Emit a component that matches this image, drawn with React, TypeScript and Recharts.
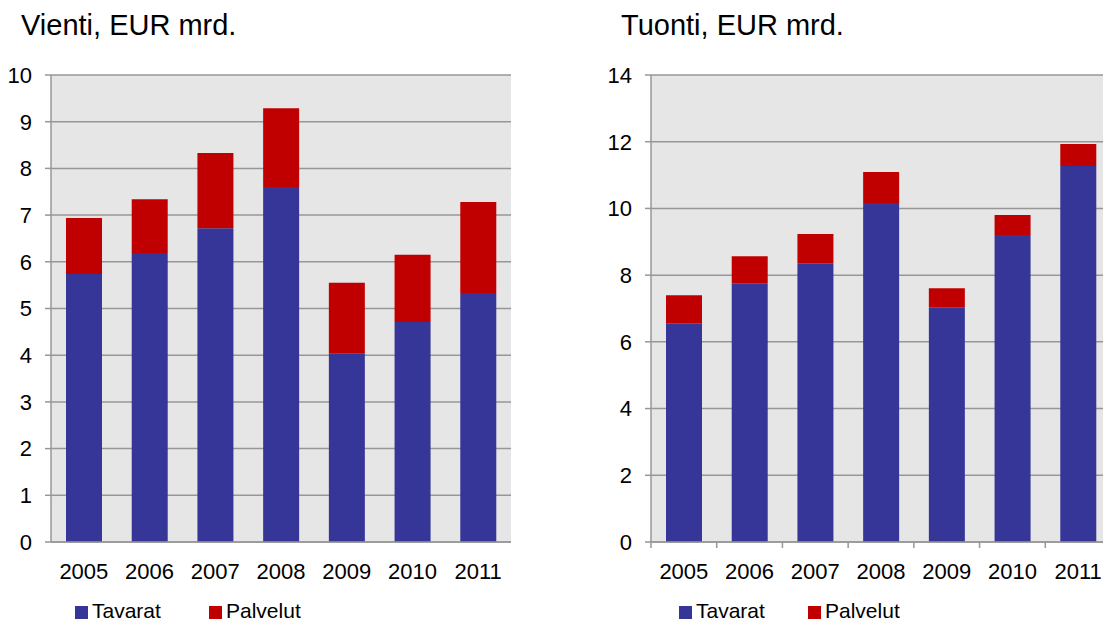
import { BarChart, Bar, XAxis, YAxis, CartesianGrid } from 'recharts'

// vuodet
const years = ['2005', '2006', '2007', '2008', '2009', '2010', '2011']

// Vienti, EUR mrd.
const vientiTavarat = [5.74, 6.19, 6.72, 7.6, 4.03, 4.71, 5.33]
const vientiPalvelut = [1.2, 1.15, 1.61, 1.69, 1.52, 1.44, 1.95]
const vientiTicks = [0, 1, 2, 3, 4, 5, 6, 7, 8, 9, 10]

// Tuonti, EUR mrd.
const tuontiTavarat = [6.56, 7.76, 8.36, 10.16, 7.04, 9.2, 11.27]
const tuontiPalvelut = [0.84, 0.81, 0.87, 0.93, 0.57, 0.6, 0.66]
const tuontiTicks = [0, 2, 4, 6, 8, 10, 12, 14]

const seriesNames = ['Tavarat', 'Palvelut']

const BLUE = '#363699'
const RED = '#C00000'
const GRID = '#979797'
const FONT = '"Liberation Sans", Arial, sans-serif'

const vientiData = years.map((year, i) => ({
  year,
  tavarat: vientiTavarat[i],
  palvelut: vientiPalvelut[i]
}))

const tuontiData = years.map((year, i) => ({
  year,
  tavarat: tuontiTavarat[i],
  palvelut: tuontiPalvelut[i]
}))

// year label, plus optional tick marks on the category edges
function YearTick(props: any, withEdges: boolean) {
  const { x, y, payload, index } = props
  const half = payload?.offset ?? 0
  return (
    <g>
      {withEdges && (
        <line x1={x - half} x2={x - half} y1={y} y2={y + 6} stroke={GRID} strokeWidth={1.5} />
      )}
      {withEdges && index === years.length - 1 && (
        <line x1={x + half} x2={x + half} y1={y} y2={y + 6} stroke={GRID} strokeWidth={1.5} />
      )}
      <text x={x} y={y + 21} dy="0.71em" textAnchor="middle" fontSize={22} fill="#000" fontFamily={FONT}>
        {payload.value}
      </text>
    </g>
  )
}

function Panel({
  data,
  ticks,
  max,
  title,
  left,
  edgeTicks
}: {
  data: typeof vientiData
  ticks: number[]
  max: number
  title: string
  left: number
  edgeTicks: boolean
}) {
  return (
    <div style={{ position: 'absolute', left, top: 0, width: 519, height: 622 }}>
      <div
        style={{
          position: 'absolute',
          left: 21,
          top: 11,
          fontSize: 29,
          lineHeight: 1,
          fontFamily: FONT,
          color: '#000',
          whiteSpace: 'nowrap'
        }}
      >
        {title}
      </div>
      <BarChart
        width={519}
        height={622}
        data={data}
        margin={{ top: 75, right: 8, left: 0, bottom: 0 }}
        barSize={36}
      >
        <CartesianGrid vertical={false} fill="#E6E6E6" stroke={GRID} strokeWidth={1.5} />
        <XAxis
          dataKey="year"
          height={80}
          tickLine={false}
          tickSize={0}
          tickMargin={0}
          axisLine={{ stroke: GRID, strokeWidth: 1.5 }}
          tick={(p: any) => YearTick(p, edgeTicks)}
          interval={0}
        />
        <YAxis
          width={51}
          domain={[0, max]}
          ticks={ticks}
          interval={0}
          tickSize={6}
          tickMargin={13}
          axisLine={{ stroke: GRID, strokeWidth: 1.5 }}
          tickLine={{ stroke: GRID, strokeWidth: 1.5 }}
          tick={{ fontSize: 22, fill: '#000', fontFamily: FONT }}
        />
        <Bar dataKey="tavarat" name={seriesNames[0]} stackId="a" fill={BLUE} isAnimationActive={false} />
        <Bar dataKey="palvelut" name={seriesNames[1]} stackId="a" fill={RED} isAnimationActive={false} />
      </BarChart>
    </div>
  )
}

function LegendItem({ x, color, label }: { x: number; color: string; label: string }) {
  return (
    <div
      style={{
        position: 'absolute',
        left: x,
        top: 600,
        display: 'flex',
        alignItems: 'flex-start',
        fontFamily: FONT,
        fontSize: 21,
        lineHeight: 1,
        color: '#000',
        whiteSpace: 'nowrap'
      }}
    >
      <div style={{ width: 13, height: 13, background: color, marginTop: 6, marginRight: 4 }} />
      <span>{label}</span>
    </div>
  )
}

export default function App() {
  return (
    <div
      style={{
        position: 'fixed',
        left: 0,
        top: 0,
        width: 1103,
        height: 622,
        overflow: 'hidden',
        background: '#fff'
      }}
    >
      <Panel data={vientiData} ticks={vientiTicks} max={10} title="Vienti, EUR mrd." left={0} edgeTicks={false} />
      <Panel data={tuontiData} ticks={tuontiTicks} max={14} title="Tuonti, EUR mrd." left={600} edgeTicks />
      <LegendItem x={75} color={BLUE} label={seriesNames[0]} />
      <LegendItem x={209} color={RED} label={seriesNames[1]} />
      <LegendItem x={679} color={BLUE} label={seriesNames[0]} />
      <LegendItem x={808} color={RED} label={seriesNames[1]} />
    </div>
  )
}
